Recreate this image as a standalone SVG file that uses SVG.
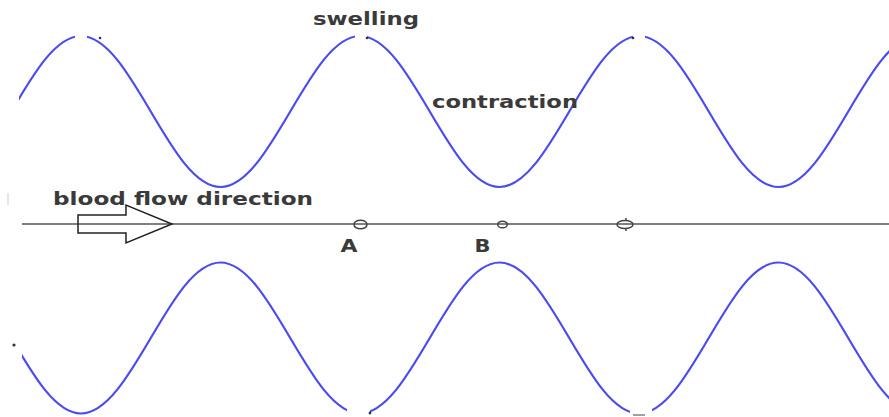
<svg xmlns="http://www.w3.org/2000/svg" width="889" height="417" viewBox="0 0 889 417">
  <style>
    .wave { fill: none; stroke: #4b4bf0; stroke-width: 2.2; }
    .lbl { font-family: "DejaVu Sans", "Liberation Sans", sans-serif; font-size: 17px; font-weight: bold; fill: #3a3a3a; }
    .axis { stroke: #555; stroke-width: 1.4; fill: none; }
    .mark { fill: none; stroke: #444; stroke-width: 1.5; }
    .dot { fill: #333; }
  </style>
  <defs>
    <clipPath id="clipTop">
      <rect x="19" y="0" width="56" height="224"/>
      <rect x="87" y="0" width="268" height="224"/>
      <rect x="367" y="0" width="266" height="224"/>
      <rect x="645" y="0" width="244" height="224"/>
    </clipPath>
    <clipPath id="clipBottom">
      <rect x="22" y="226" width="325" height="191"/>
      <rect x="370" y="226" width="260" height="191"/>
      <rect x="652" y="226" width="237" height="191"/>
    </clipPath>
  </defs>
  <rect width="889" height="417" fill="#fff"/>

  <g id="top-wall">
    <path class="wave" clip-path="url(#clipTop)" d="M -58.5 187 C -7.8 187 30.3 36 81 36 S 169.8 187 220.5 187 S 309.3 36 360 36 S 448.8 187 499.5 187 S 588.3 36 639 36 S 727.8 187 778.5 187 S 867.3 36 918 36"/>
  </g>
  <g id="bottom-wall">
    <path class="wave" clip-path="url(#clipBottom)" d="M -58.5 262.5 C -7.8 262.5 30.3 413.5 81 413.5 S 169.8 262.5 220.5 262.5 S 309.3 413.5 360 413.5 S 448.8 262.5 499.5 262.5 S 588.3 413.5 639 413.5 S 727.8 262.5 778.5 262.5 S 867.3 413.5 918 413.5"/>
  </g>

  <g id="connectors">
    <line class="axis" x1="22" y1="224" x2="889" y2="224"/>
  </g>

  <g id="flow-arrow">
    <polygon points="78,215 126,215 126,205 172,224 126,243 126,233 78,233" fill="none" stroke="#222" stroke-width="1.5"/>
  </g>

  <g id="point-A">
    <ellipse class="mark" cx="360.5" cy="224.5" rx="6.5" ry="4.3" fill="#fff"/>
    <text class="lbl" x="349" y="252" text-anchor="middle" textLength="17" lengthAdjust="spacingAndGlyphs">A</text>
  </g>
  <g id="point-B">
    <ellipse class="mark" cx="502.5" cy="224.5" rx="4.8" ry="3.3" fill="#fff"/>
    <text class="lbl" x="482.5" y="252" text-anchor="middle" textLength="16" lengthAdjust="spacingAndGlyphs">B</text>
  </g>
  <g id="point-C">
    <ellipse class="mark" cx="625" cy="224.5" rx="8" ry="4" fill="#fff"/>
    <line class="mark" x1="626" y1="218" x2="626" y2="220.5"/>
    <line class="mark" x1="626" y1="228.5" x2="626" y2="231"/>
  </g>

  <g id="labels">
    <text class="lbl" x="313" y="25" textLength="106" lengthAdjust="spacingAndGlyphs">swelling</text>
    <text class="lbl" x="432" y="108" textLength="146" lengthAdjust="spacingAndGlyphs">contraction</text>
    <text class="lbl" x="53" y="205" textLength="260" lengthAdjust="spacingAndGlyphs">blood flow direction</text>
  </g>

  <g id="specks">
    <circle class="dot" cx="100" cy="38" r="1.3"/>
    <circle class="dot" cx="367" cy="38" r="1.3"/>
    <circle class="dot" cx="633" cy="38" r="1.3"/>
    <circle class="dot" cx="370" cy="413" r="1.4"/>
    <circle class="dot" cx="14" cy="345" r="1.6"/>
    <line x1="633" y1="415" x2="645" y2="415" stroke="#444" stroke-width="1"/>
    <line x1="8" y1="193" x2="8" y2="205" stroke="#ddd" stroke-width="1.5"/>
  </g>
</svg>
